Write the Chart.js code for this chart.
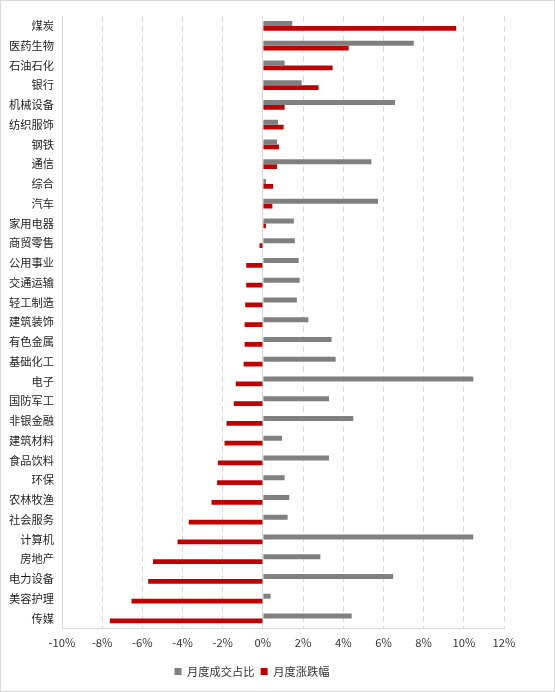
<!DOCTYPE html>
<html>
<head>
<meta charset="utf-8">
<script src="https://cdn.jsdelivr.net/npm/chart.js@4/dist/chart.umd.min.js"></script>
<style>
  html, body { margin: 0; padding: 0; background: #fff; }
  #wrap { position: relative; width: 555px; height: 692px; }
  #frame { position: absolute; left: 0; top: 0; width: 553px; height: 690px; border: 1px solid #d9d9d9; pointer-events: none; }
</style>
</head>
<body>
<div id="wrap">
  <canvas id="chart" width="555" height="692"></canvas>
  <div id="frame"></div>
</div>
<script>
const industries = ["煤炭", "医药生物", "石油石化", "银行", "机械设备", "纺织服饰", "钢铁", "通信", "综合", "汽车",
    "家用电器", "商贸零售", "公用事业", "交通运输", "轻工制造", "建筑装饰", "有色金属", "基础化工", "电子", "国防军工",
    "非银金融", "建筑材料", "食品饮料", "环保", "农林牧渔", "社会服务", "计算机", "房地产", "电力设备", "美容护理", "传媒"];

// 月度成交占比 (%)
const turnoverShare = [1.46, 7.51, 1.08, 1.93, 6.58, 0.75, 0.70, 5.40, 0.15, 5.73,
    1.54, 1.59, 1.78, 1.83, 1.69, 2.26, 3.42, 3.62, 10.47, 3.29,
    4.50, 0.95, 3.29, 1.08, 1.31, 1.23, 10.47, 2.86, 6.48, 0.38, 4.42];

// 月度涨跌幅 (%)
const monthlyChange = [9.62, 4.27, 3.47, 2.77, 1.08, 1.03, 0.80, 0.70, 0.51, 0.47,
    0.15, -0.17, -0.83, -0.83, -0.88, -0.91, -0.91, -0.96, -1.35, -1.45,
    -1.81, -1.91, -2.24, -2.28, -2.56, -3.69, -4.25, -5.47, -5.71, -6.54, -7.62];

const seriesNames = ["月度成交占比", "月度涨跌幅"];
const xMin = -10, xMax = 12, xStep = 2;

const font = "'Noto Sans CJK SC', 'Noto Sans', sans-serif";
const fontSize = 11.25;

const ctx = document.getElementById('chart').getContext('2d');
new Chart(ctx, {
    type: 'bar',
    data: {
        labels: industries,
        datasets: [
            {
                label: seriesNames[0],
                data: turnoverShare,
                backgroundColor: '#808080',
                categoryPercentage: 0.5,
                barPercentage: 1.0
            },
            {
                label: seriesNames[1],
                data: monthlyChange,
                backgroundColor: '#c00000',
                categoryPercentage: 0.5,
                barPercentage: 1.0
            }
        ]
    },
    options: {
        indexAxis: 'y',
        responsive: false,
        animation: false,
        layout: { padding: { top: 16, right: 51, bottom: 5, left: 0 } },
        scales: {
            x: {
                min: xMin,
                max: xMax,
                ticks: {
                    stepSize: xStep,
                    padding: 8,
                    color: '#333333',
                    font: { family: font, size: fontSize },
                    callback: v => v + '%'
                },
                grid: {
                    color: '#d9d9d9',
                    lineWidth: 1,
                    drawTicks: false
                },
                border: {
                    color: '#d9d9d9',
                    dash: c => (c.tick && c.tick.value === 0) ? [] : [6, 4]
                },
                afterFit: s => { s.height = 31.5; }
            },
            y: {
                grid: { display: false, drawTicks: false },
                border: { color: '#d9d9d9' },
                ticks: {
                    padding: 8,
                    color: '#1f1f1f',
                    autoSkip: false,
                    font: { family: font, size: fontSize }
                },
                afterFit: s => { s.width = 62; }
            }
        },
        plugins: {
            tooltip: { enabled: false },
            legend: {
                position: 'bottom',
                labels: {
                    boxWidth: 7,
                    boxHeight: 7,
                    padding: 6,
                    color: '#333333',
                    font: { family: font, size: fontSize }
                }
            }
        }
    }
});
</script>
</body>
</html>
